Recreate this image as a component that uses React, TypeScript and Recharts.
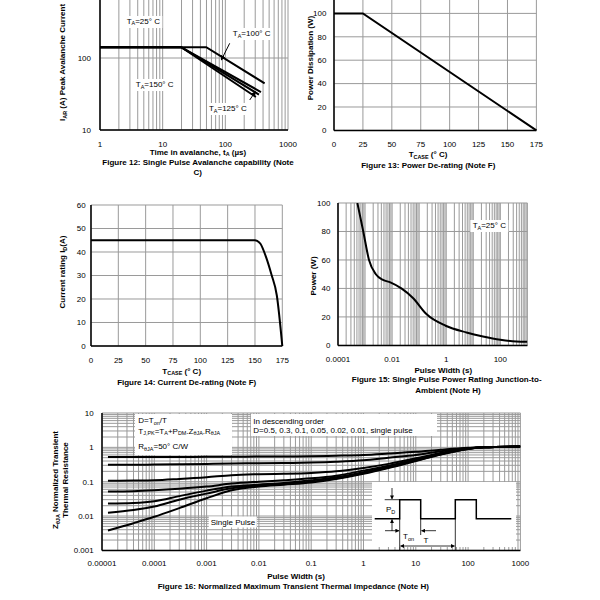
import React from 'react';
import { LineChart, Line, XAxis, YAxis, CartesianGrid } from 'recharts';

const FONT = 'Arial, "Liberation Sans", Helvetica, sans-serif';

// Figure 12: avalanche current vs time (us, A)
const avalXMajor = [1, 10, 100, 1000];
const avalYTicks = [10, 100, 1000];
const aval25 = [{ t: 1, a: 141 }, { t: 49.6, a: 141 }, { t: 424, a: 44.5 }];
const aval100 = [{ t: 1, a: 141 }, { t: 19.8, a: 141 }, { t: 370, a: 33.7 }];
const aval125 = [{ t: 1, a: 141 }, { t: 19.8, a: 141 }, { t: 344, a: 31.1 }];
const aval150 = [{ t: 1, a: 141 }, { t: 19.8, a: 141 }, { t: 307, a: 28.7 }];

// Figure 13: power de-rating
const caseTicks = [0, 25, 50, 75, 100, 125, 150, 175];
const pdTicks = [0, 20, 40, 60, 80, 100, 120];
const pdDerate = [{ t: 0, p: 100 }, { t: 25, p: 100 }, { t: 175, p: 0 }];

// Figure 14: current de-rating
const idTicks = [0, 10, 20, 30, 40, 50, 60];
const idDerate = [
  { t: 0, i: 45 }, { t: 150, i: 45 }, { t: 152, i: 44.7 }, { t: 155, i: 43.5 },
  { t: 160, i: 38 }, { t: 165, i: 30.5 }, { t: 170, i: 21.5 }, { t: 175, i: 0 },
];

// Figure 15: single pulse power
const pulseXMajor = [0.0001, 0.01, 1, 100];
const powerTicks = [0, 20, 40, 60, 80, 100];
const pulsePower = [
  { t: 0.00052, p: 100 }, { t: 0.00086, p: 80 }, { t: 0.0014, p: 60 }, { t: 0.0025, p: 50 },
  { t: 0.0046, p: 46 }, { t: 0.0086, p: 44.3 }, { t: 0.022, p: 40 }, { t: 0.059, p: 33.3 },
  { t: 0.185, p: 22 }, { t: 0.95, p: 13.8 }, { t: 5.6, p: 9.1 }, { t: 22.8, p: 6.3 },
  { t: 100, p: 4 }, { t: 390, p: 2.8 }, { t: 1000, p: 2.6 },
];

// Figure 16: normalized transient thermal impedance
const zXMajor = [0.00001, 0.0001, 0.001, 0.01, 0.1, 1, 10, 100, 1000];
const zYMajor = [0.001, 0.01, 0.1, 1, 10];
const zTime = [1.3e-5, 4e-5, 1e-4, 3e-4, 1e-3, 3e-3, 1e-2, 3e-2, 0.1, 0.3, 1, 3, 10, 30, 100, 200, 1000];
const zD05 = [0.52, 0.52, 0.52, 0.52, 0.53, 0.53, 0.54, 0.54, 0.55, 0.57, 0.6, 0.66, 0.74, 0.85, 0.97, 1.02, 1.05];
const zD03 = [0.31, 0.31, 0.315, 0.32, 0.33, 0.34, 0.345, 0.35, 0.36, 0.38, 0.42, 0.5, 0.6, 0.77, 0.95, 1.0, 1.05];
const zD01 = [0.107, 0.108, 0.11, 0.12, 0.135, 0.155, 0.165, 0.17, 0.18, 0.2, 0.25, 0.33, 0.48, 0.69, 0.93, 1.0, 1.05];
const zD005 = [0.052, 0.053, 0.056, 0.062, 0.072, 0.088, 0.1, 0.11, 0.125, 0.15, 0.21, 0.29, 0.44, 0.66, 0.92, 1.0, 1.05];
const zD002 = [0.023, 0.024, 0.027, 0.038, 0.055, 0.072, 0.082, 0.092, 0.11, 0.135, 0.19, 0.27, 0.42, 0.64, 0.91, 1.0, 1.05];
const zD001 = [0.0125, 0.015, 0.019, 0.03, 0.045, 0.064, 0.077, 0.087, 0.1, 0.125, 0.18, 0.26, 0.41, 0.63, 0.9, 1.0, 1.05];
const zSingle = [0.0038, 0.0062, 0.0095, 0.017, 0.033, 0.056, 0.072, 0.082, 0.095, 0.12, 0.17, 0.25, 0.4, 0.62, 0.9, 1.0, 1.05];
const zSeries = ['d05', 'd03', 'd01', 'd005', 'd002', 'd001', 'single'];
const zTable = zTime.map((t, i) => ({
  t, d05: zD05[i], d03: zD03[i], d01: zD01[i], d005: zD005[i], d002: zD002[i], d001: zD001[i], single: zSingle[i],
}));

// 1..9 x 10^e grid positions for the log axes
const logGrid = (lo: number, hi: number) => {
  const out: number[] = [];
  for (let e = lo; e < hi; e++) for (let m = 1; m < 10; m++) out.push(Number((m * 10 ** e).toPrecision(2)));
  out.push(Number((10 ** hi).toPrecision(2)));
  return out;
};
const onlyMajors = (majors: number[]) => (v: number) =>
  majors.some((m) => Math.abs(v / m - 1) < 1e-6) ? String(v) : '';
// the top tick sits above the page edge, so its label is left off
const belowTop = (top: number) => (v: number) => (v >= top ? '' : String(v));

const tickStyle = { fill: '#000', fontSize: 8, fontFamily: FONT };
const axisStroke = { stroke: '#000', strokeWidth: 1.5 };
const GRID = '#9a9a9a';

const YW = 40, XH = 30, MT = 8, MR = 22;

function Panel({ x, y, w, h, data, children }: any) {
  return (
    <div style={{ position: 'absolute', left: x - YW, top: y - MT }}>
      <LineChart width={w + YW + MR} height={h + MT + XH} data={data} margin={{ top: MT, right: MR, left: 0, bottom: 0 }}>
        {children}
      </LineChart>
    </div>
  );
}

const Sub = ({ children }: any) => (
  <span style={{ fontSize: '0.68em', position: 'relative', top: '0.28em' }}>{children}</span>
);

function Txt({ x, y, bold, anchor = 'middle', bg, children }: any) {
  const tx = anchor === 'middle' ? '-50%' : anchor === 'end' ? '-100%' : '0';
  return (
    <div style={{
      position: 'absolute', left: x, top: y, transform: `translate(${tx}, -50%)`, fontSize: 8,
      fontWeight: bold ? 700 : 400, whiteSpace: 'nowrap', lineHeight: '9px', fontFamily: FONT,
      background: bg ? '#fff' : undefined, padding: bg ? '1px 2px' : 0,
    }}>{children}</div>
  );
}

function VTxt({ x, y, fromBottom, children }: any) {
  const style: React.CSSProperties = {
    position: 'absolute', left: x, top: y, fontSize: 8, fontWeight: 700, whiteSpace: 'nowrap',
    lineHeight: '9px', fontFamily: FONT, textAlign: 'center',
  };
  if (fromBottom) {
    style.transformOrigin = '0 0';
    style.transform = 'rotate(-90deg) translateY(-50%)';
  } else {
    style.transform = 'translate(-50%, -50%) rotate(-90deg)';
  }
  return <div style={style}>{children}</div>;
}

const Box = ({ x, y, w, h }: any) => (
  <div style={{ position: 'absolute', left: x, top: y, width: w, height: h, background: '#fff' }} />
);

const line = (data: any, key: string, type: any = 'linear') => (
  <Line data={data} dataKey={key} type={type} stroke="#000" strokeWidth={2} dot={false} isAnimationActive={false} />
);

export default function App() {
  const avalGrid = logGrid(0, 3);
  const pulseGrid = logGrid(-4, 3);
  const zGridX = logGrid(-5, 3);
  const zGridY = logGrid(-3, 1);

  return (
    <div style={{ position: 'absolute', left: 0, top: 0, width: 600, height: 600, overflow: 'hidden', background: '#fff', fontFamily: FONT }}>
      {/* Figure 12 */}
      <Panel x={100} y={-14} w={188} h={144}>
        <CartesianGrid stroke={GRID} />
        <XAxis type="number" dataKey="t" scale="log" domain={[1, 1000]} allowDataOverflow ticks={avalGrid} interval={0}
          tickFormatter={onlyMajors(avalXMajor)} tick={tickStyle} tickLine={false} tickSize={0} tickMargin={11} axisLine={axisStroke} height={XH} />
        <YAxis type="number" scale="log" domain={[10, 1000]} allowDataOverflow ticks={avalYTicks} interval={0}
          tickFormatter={belowTop(1000)} tick={tickStyle} tickLine={false} tickSize={0} tickMargin={9} axisLine={axisStroke} width={YW} />
        {line(aval25, 'a')}
        {line(aval100, 'a')}
        {line(aval125, 'a')}
        {line(aval150, 'a')}
      </Panel>

      {/* Figure 13 */}
      <Panel x={334.3} y={-10.4} w={202.4} h={140.4}>
        <CartesianGrid stroke={GRID} />
        <XAxis type="number" dataKey="t" domain={[0, 175]} ticks={caseTicks} interval={0}
          tick={tickStyle} tickLine={false} tickSize={0} tickMargin={11} axisLine={axisStroke} height={XH} />
        <YAxis type="number" domain={[0, 120]} ticks={pdTicks} interval={0}
          tickFormatter={belowTop(120)} tick={tickStyle} tickLine={false} tickSize={0} tickMargin={7.6} axisLine={axisStroke} width={YW} />
        {line(pdDerate, 'p')}
      </Panel>

      {/* Figure 14 */}
      <Panel x={91} y={205} w={191.3} h={141}>
        <CartesianGrid stroke={GRID} />
        <XAxis type="number" dataKey="t" domain={[0, 175]} ticks={caseTicks} interval={0}
          tick={tickStyle} tickLine={false} tickSize={0} tickMargin={11.5} axisLine={axisStroke} height={XH} />
        <YAxis type="number" domain={[0, 60]} ticks={idTicks} interval={0}
          tick={tickStyle} tickLine={false} tickSize={0} tickMargin={5.3} axisLine={axisStroke} width={YW} />
        {line(idDerate, 'i', 'monotone')}
      </Panel>

      {/* Figure 15 */}
      <Panel x={338.3} y={203.3} w={189.4} h={142.4}>
        <CartesianGrid stroke={GRID} />
        <XAxis type="number" dataKey="t" scale="log" domain={[0.0001, 1000]} allowDataOverflow ticks={pulseGrid} interval={0}
          tickFormatter={onlyMajors(pulseXMajor)} tick={tickStyle} tickLine={false} tickSize={0} tickMargin={11} axisLine={axisStroke} height={XH} />
        <YAxis type="number" domain={[0, 100]} allowDataOverflow ticks={powerTicks} interval={0}
          tick={tickStyle} tickLine={false} tickSize={0} tickMargin={7.6} axisLine={axisStroke} width={YW} />
        {line(pulsePower, 'p', 'monotone')}
      </Panel>

      {/* Figure 16 */}
      <Panel x={102.3} y={413.3} w={418.4} h={137.4} data={zTable}>
        <CartesianGrid stroke={GRID} />
        <XAxis type="number" dataKey="t" scale="log" domain={[0.00001, 1000]} allowDataOverflow ticks={zGridX} interval={0}
          tickFormatter={onlyMajors(zXMajor)} tick={tickStyle} tickLine={false} tickSize={0} tickMargin={10} axisLine={axisStroke} height={XH} />
        <YAxis type="number" scale="log" domain={[0.001, 10]} allowDataOverflow ticks={zGridY} interval={0}
          tickFormatter={onlyMajors(zYMajor)} tick={tickStyle} tickLine={false} tickSize={0} tickMargin={8.3} axisLine={axisStroke} width={YW} />
        {zSeries.map((k) => (
          <Line key={k} dataKey={k} type="monotone" stroke="#000" strokeWidth={2} dot={false} isAnimationActive={false} />
        ))}
      </Panel>

      {/* Figure 12 text */}
      <VTxt x={62.5} y={121} fromBottom>I<Sub>AR</Sub> (A) Peak Avalanche Current</VTxt>
      <Txt x={143.3} y={21.7} bg>T<Sub>A</Sub>=25° C</Txt>
      <Txt x={251.7} y={34.3} bg>T<Sub>A</Sub>=100° C</Txt>
      <Txt x={154.7} y={85} bg>T<Sub>A</Sub>=150° C</Txt>
      <Txt x={227.8} y={109.3} bg>T<Sub>A</Sub>=125° C</Txt>
      <Txt x={198} y={152.7} bold>Time in avalanche, t<Sub>A</Sub> (µs)</Txt>
      <Txt x={198} y={162.3} bold>Figure 12: Single Pulse Avalanche capability (Note</Txt>
      <Txt x={197.7} y={172} bold>C)</Txt>

      {/* Figure 13 text */}
      <VTxt x={309.5} y={57.5}>Power Dissipation (W)</VTxt>
      <Txt x={428} y={155} bold>T<Sub>CASE</Sub> (° C)</Txt>
      <Txt x={428.3} y={164.7} bold>Figure 13: Power De-rating (Note F)</Txt>

      {/* Figure 14 text */}
      <VTxt x={63.3} y={271.7}>Current rating I<Sub>D</Sub>(A)</VTxt>
      <Txt x={181.7} y={371.7} bold>T<Sub>CASE</Sub> (° C)</Txt>
      <Txt x={186.7} y={381.7} bold>Figure 14: Current De-rating (Note F)</Txt>

      {/* Figure 15 text */}
      <VTxt x={313.3} y={276}>Power (W)</VTxt>
      <Txt x={489.3} y={226} bg>T<Sub>A</Sub>=25° C</Txt>
      <Txt x={443.3} y={370} bold>Pulse Width (s)</Txt>
      <Txt x={446.7} y={379.3} bold>Figure 15: Single Pulse Power Rating Junction-to-</Txt>
      <Txt x={448} y={389.5} bold>Ambient (Note H)</Txt>

      {/* Figure 16 text */}
      <VTxt x={60} y={480}>Z<Sub>θJA</Sub> Normalized Transient<br />Thermal Resistance</VTxt>
      <Box x={135} y={414} w={97} h={41} />
      <Txt x={138.3} y={421} anchor="start">D=T<Sub>on</Sub>/T</Txt>
      <Txt x={138.3} y={431.7} anchor="start">T<Sub>J,PK</Sub>=T<Sub>A</Sub>+P<Sub>DM</Sub>.Z<Sub>θJA</Sub>.R<Sub>θJA</Sub></Txt>
      <Txt x={138.3} y={447.3} anchor="start">R<Sub>θJA</Sub>=50° C/W</Txt>
      <Box x={251} y={414} w={186} h={22} />
      <Txt x={253.3} y={421} anchor="start">In descending order</Txt>
      <Txt x={253.3} y={430} anchor="start">D=0.5, 0.3, 0.1, 0.05, 0.02, 0.01, single pulse</Txt>
      <Txt x={233} y={522} bg>Single Pulse</Txt>
      <Txt x={296} y={576} bold>Pulse Width (s)</Txt>
      <Txt x={293.3} y={586} bold>Figure 16: Normalized Maximum Transient Thermal Impedance (Note H)</Txt>

      {/* arrows and the duty-cycle inset */}
      <svg width={600} height={600} style={{ position: 'absolute', left: 0, top: 0, pointerEvents: 'none' }}>
        <defs>
          <marker id="ah" viewBox="0 0 10 10" refX="9" refY="5" markerWidth="5" markerHeight="5" orient="auto-start-reverse">
            <path d="M0,0 L10,5 L0,10 z" fill="#000" />
          </marker>
        </defs>
        <line x1={229.7} y1={43.3} x2={221.3} y2={60} stroke="#000" strokeWidth={1} markerEnd="url(#ah)" />
        <line x1={249.7} y1={100} x2={255.3} y2={91.7} stroke="#000" strokeWidth={1} markerEnd="url(#ah)" />

        <rect x={372} y={482} width={144} height={65} fill="#fff" />
        <polyline points="374.7,518.7 399.7,518.7 399.7,499.7 420.7,499.7 420.7,518.7 455.3,518.7 455.3,499.7 476.3,499.7 476.3,518.7 511.3,518.7"
          fill="none" stroke="#000" strokeWidth={1.5} />
        <g stroke="#000" strokeWidth={0.8} fill="none">
          <line x1={399.7} y1={518.7} x2={399.7} y2={550} />
          <line x1={455.3} y1={518.7} x2={455.3} y2={550} />
          <line x1={420.7} y1={518.7} x2={420.7} y2={535} />
          <line x1={384.7} y1={499.7} x2={399.7} y2={499.7} />
          <line x1={392} y1={488} x2={392} y2={499} markerEnd="url(#ah)" />
          <line x1={392} y1={531} x2={392} y2={519.5} markerEnd="url(#ah)" />
          <line x1={385} y1={530.7} x2={399} y2={530.7} markerEnd="url(#ah)" />
          <line x1={436} y1={530.7} x2={421.5} y2={530.7} markerEnd="url(#ah)" />
          <line x1={400.5} y1={546} x2={454.5} y2={546} markerStart="url(#ah)" markerEnd="url(#ah)" />
        </g>
        <text x={386} y={512} fontSize={8} fontFamily={FONT}>P<tspan fontSize={5.5} dy={2}>D</tspan></text>
        <text x={403} y={538.5} fontSize={8} fontFamily={FONT}>T<tspan fontSize={5.5} dy={2}>on</tspan></text>
        <text x={423.5} y={543} fontSize={8} fontFamily={FONT}>T</text>
      </svg>
    </div>
  );
}
